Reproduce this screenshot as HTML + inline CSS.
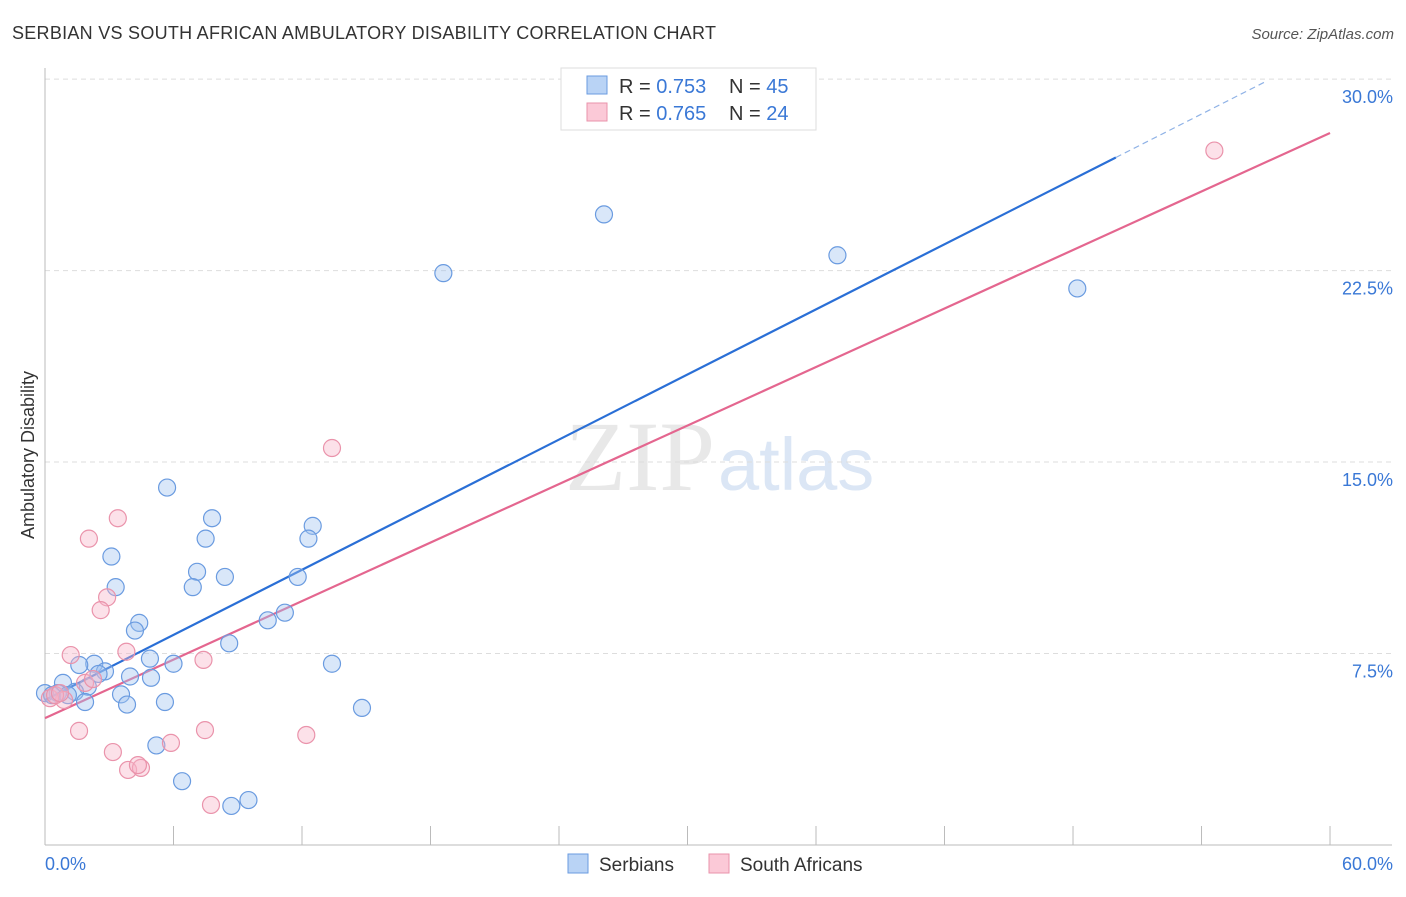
<!DOCTYPE html>
<html><head><meta charset="utf-8"><style>
body{margin:0;background:#fff;font-family:"Liberation Sans",sans-serif}
</style></head><body>
<svg id="chart" width="1406" height="892" xmlns="http://www.w3.org/2000/svg">
<text x="12" y="39" font-size="18" fill="#333" textLength="704">SERBIAN VS SOUTH AFRICAN AMBULATORY DISABILITY CORRELATION CHART</text>
<text x="1394" y="39" font-size="15" fill="#555" font-style="italic" text-anchor="end">Source: ZipAtlas.com</text>
<text x="715" y="490" font-size="100" fill="#e8e8e8" text-anchor="end" font-family="Liberation Serif">ZIP</text>
<text x="718" y="490" font-size="74" fill="#dbe6f5">atlas</text>
<g id="grid"></g><g id="axes"></g><g id="lines"></g><g id="pts"></g>
<text transform="translate(34,455) rotate(-90)" font-size="18" fill="#333" text-anchor="middle">Ambulatory Disability</text>
<g>
<rect x="561" y="68" width="255" height="62" fill="#fff" stroke="#ddd"/>
<rect x="587" y="76" width="20" height="18" fill="#b9d3f5" stroke="#6a9be0"/>
<text x="619" y="93" font-size="20" fill="#333">R = <tspan fill="#3a78d6">0.753</tspan></text>
<text x="729" y="93" font-size="20" fill="#333">N = <tspan fill="#3a78d6">45</tspan></text>
<rect x="587" y="103" width="20" height="18" fill="#fbc9d7" stroke="#ea93ab"/>
<text x="619" y="120" font-size="20" fill="#333">R = <tspan fill="#3a78d6">0.765</tspan></text>
<text x="729" y="120" font-size="20" fill="#333">N = <tspan fill="#3a78d6">24</tspan></text>
</g>
<g>
<rect x="568" y="854" width="20" height="19" fill="#b9d3f5" stroke="#6a9be0"/>
<text x="599" y="871" font-size="19" fill="#333">Serbians</text>
<rect x="709" y="854" width="20" height="19" fill="#fbc9d7" stroke="#ea93ab"/>
<text x="740" y="871" font-size="19" fill="#333">South Africans</text>
</g>
</svg>
<script>
const xTicks=[0,6,12,18,24,30,36,42,48,54,60];
const yTicks=[7.5,15,22.5,30];
const yTickLabels=["7.5%","15.0%","22.5%","30.0%"];
const serbX=[5.7,7.8,7.5,12.5,12.3,3.1,7.1,8.4,6.9,11.8,3.3,4.4,4.2,11.2,10.4,8.6,4.9,2.3,1.6,6.0,13.4,2.8,2.5,3.97,4.95,0.84,2.0,1.4,0.6,3.55,5.6,1.87,3.83,14.8,5.2,6.4,9.5,8.7,18.6,26.1,37.0,48.2,0.0,0.33,1.07];
const serbY=[14.0,12.8,12.0,12.5,12.0,11.3,10.7,10.5,10.1,10.5,10.1,8.7,8.4,9.1,8.8,7.9,7.3,7.1,7.05,7.1,7.1,6.8,6.7,6.6,6.55,6.35,6.2,6.0,5.95,5.9,5.6,5.6,5.5,5.37,3.9,2.5,1.76,1.53,22.4,24.7,23.1,21.8,5.95,5.87,5.87];
const safX=[3.4,2.05,13.4,2.9,2.6,1.2,3.8,7.4,1.87,2.24,0.89,0.23,0.47,1.59,3.17,5.88,7.47,12.2,3.88,4.48,4.34,7.75,54.6,0.7];
const safY=[12.8,12.0,15.55,9.7,9.2,7.44,7.57,7.25,6.35,6.5,5.68,5.75,5.87,4.47,3.64,4.0,4.5,4.31,2.94,3.02,3.13,1.57,27.2,5.95];
const serbFit=[5.68,0.425], safFit=[4.97,0.382];
const NS="http://www.w3.org/2000/svg";
const X=v=>45+v*21.417, Y=v=>845-v*25.53;
function mk(p,t,a){const e=document.createElementNS(NS,t);for(const k in a)e.setAttribute(k,a[k]);document.getElementById(p).appendChild(e);return e;}
yTicks.forEach((t,i)=>{
 const g=mk('grid','line',{x1:45,x2:1392,y1:Y(t),y2:Y(t),stroke:'#ddd','stroke-dasharray':'5,4'});
 
 
 const l=mk('axes','text',{x:1393,y:Y(t)+24,'font-size':18,fill:'#3a78d6','text-anchor':'end'});l.textContent=yTickLabels[i];
 
 
});
const ax=mk('axes','line',{x1:45,x2:1392,y1:845,y2:845,stroke:'#bbb'});


const ay=mk('axes','line',{x1:45,x2:45,y1:68,y2:845,stroke:'#bbb'});


xTicks.forEach(t=>{const k=mk('axes','line',{x1:X(t),x2:X(t),y1:826,y2:845,stroke:'#bbb'});
 
 });
[[0,'0.0%','start',45],[60,'60.0%','end',1393]].forEach(d=>{const l=mk('axes','text',{x:d[3],y:870,'font-size':18,fill:'#3a78d6','text-anchor':d[2]});l.textContent=d[1];
 
 });
function pts(xs,ys,fill,stroke,name){xs.forEach((x,i)=>{const c=mk('pts','circle',{cx:X(x),cy:Y(ys[i]),r:8.5,fill:fill,stroke:stroke,'stroke-width':1.2});
 
 });}
pts(serbX,serbY,'rgba(160,195,240,0.4)','#6a9be0','serbian-point');
pts(safX,safY,'rgba(248,180,200,0.4)','#ea93ab','south-african-point');
const b1=mk('lines','line',{x1:X(0),y1:Y(serbFit[0]),x2:X(50),y2:Y(serbFit[0]+serbFit[1]*50),stroke:'#2a6fd6','stroke-width':2.2});


const b2=mk('lines','line',{x1:X(50),y1:Y(serbFit[0]+serbFit[1]*50),x2:X(57),y2:Y(serbFit[0]+serbFit[1]*57),stroke:'#8fb2e6','stroke-width':1.2,'stroke-dasharray':'6,4'});


const p1=mk('lines','line',{x1:X(0),y1:Y(safFit[0]),x2:X(60),y2:Y(safFit[0]+safFit[1]*60),stroke:'#e4668f','stroke-width':2.2});


</script>
</body></html>
